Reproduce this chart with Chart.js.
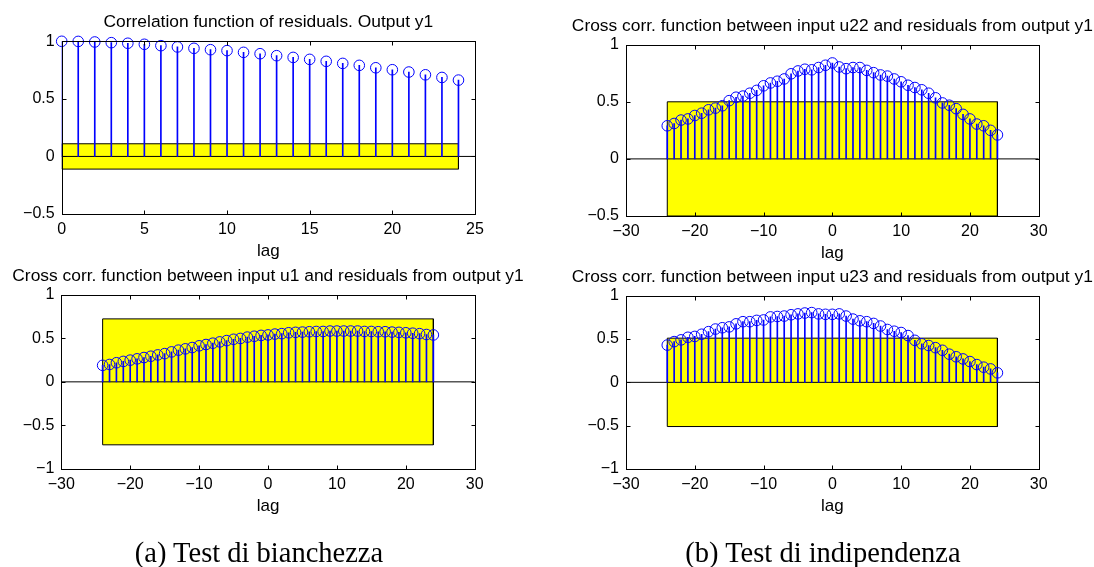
<!DOCTYPE html>
<html>
<head>
<meta charset="utf-8">
<script src="https://cdn.jsdelivr.net/npm/chart.js@4.4.0/dist/chart.umd.min.js"></script>
<style>
  body { margin: 0; background: #fff; }
  #page { position: relative; width: 1094px; height: 567px; overflow: hidden; background: #fff; }
  canvas { position: absolute; }
  .caption {
    position: absolute; width: 400px; text-align: center; white-space: nowrap;
    font-family: "Liberation Serif", "Times New Roman", serif; font-size: 28.5px;
    line-height: 1; color: #000;
  }
</style>
</head>
<body>
<div id="page">
  <canvas id="acfY1"></canvas>
  <canvas id="ccU22"></canvas>
  <canvas id="ccU1"></canvas>
  <canvas id="ccU23"></canvas>
  <div class="caption" style="left:59px;top:539px">(a) Test di bianchezza</div>
  <div class="caption" style="left:623px;top:539px">(b) Test di indipendenza</div>
</div>
<script>
// residual autocorrelation, output y1
const lagsAcf = [0, 1, 2, 3, 4, 5, 6, 7, 8, 9, 10, 11, 12, 13, 14, 15, 16, 17, 18, 19, 20, 21, 22, 23, 24];
const acfY1 = [1.0, 0.999, 0.994, 0.988, 0.983, 0.974, 0.962, 0.951, 0.939, 0.927, 0.919, 0.904, 0.892,
  0.875, 0.86, 0.843, 0.826, 0.808, 0.791, 0.77, 0.753, 0.733, 0.709, 0.686, 0.663];
const acfBound = 0.11;

// cross correlation inputs -> residuals of y1
const lagsCross = [-24, -23, -22, -21, -20, -19, -18, -17, -16, -15, -14, -13, -12, -11, -10, -9, -8, -7,
  -6, -5, -4, -3, -2, -1, 0, 1, 2, 3, 4, 5, 6, 7, 8, 9, 10, 11, 12, 13, 14, 15, 16, 17, 18, 19, 20, 21,
  22, 23, 24];
const crossU1 = [0.19, 0.20, 0.22, 0.235, 0.25, 0.265, 0.28, 0.295, 0.31, 0.325, 0.345, 0.365, 0.38,
  0.395, 0.415, 0.43, 0.445, 0.46, 0.475, 0.49, 0.50, 0.515, 0.525, 0.535, 0.54, 0.55, 0.555, 0.565,
  0.57, 0.573, 0.577, 0.58, 0.58, 0.585, 0.585, 0.585, 0.585, 0.585, 0.58, 0.58, 0.577, 0.577, 0.573,
  0.57, 0.565, 0.56, 0.555, 0.545, 0.54];
const crossU1Bound = 0.725;
const crossU22 = [0.29, 0.31, 0.34, 0.35, 0.38, 0.40, 0.43, 0.445, 0.465, 0.51, 0.54, 0.55, 0.575, 0.60,
  0.64, 0.665, 0.68, 0.70, 0.745, 0.77, 0.785, 0.78, 0.80, 0.82, 0.84, 0.805, 0.79, 0.80, 0.80, 0.775,
  0.755, 0.735, 0.725, 0.70, 0.675, 0.645, 0.625, 0.605, 0.575, 0.535, 0.49, 0.47, 0.44, 0.39, 0.35,
  0.305, 0.29, 0.25, 0.21];
const crossU22Bound = 0.5;
const crossU23 = [0.43, 0.47, 0.49, 0.52, 0.53, 0.555, 0.585, 0.615, 0.63, 0.64, 0.675, 0.70, 0.70,
  0.715, 0.72, 0.755, 0.76, 0.765, 0.78, 0.79, 0.80, 0.805, 0.79, 0.785, 0.785, 0.79, 0.765, 0.73, 0.71,
  0.70, 0.68, 0.65, 0.61, 0.59, 0.575, 0.54, 0.485, 0.445, 0.425, 0.40, 0.37, 0.325, 0.295, 0.27, 0.24,
  0.205, 0.175, 0.155, 0.11];
const crossU23Bound = 0.51;

const SANS = '"Liberation Sans", Arial, Helvetica, sans-serif';
Chart.defaults.font.family = SANS;
Chart.defaults.color = '#000';

const Y_AXIS_W = 55;
const X_AXIS_H = 40;

const minus = (v) => String(v).replace('-', '\u2212');

// box, inward ticks on all four sides, title and x label
const axesFrame = {
  id: 'axesFrame',
  afterDatasetsDraw(chart, args, opts) {
    const { ctx, chartArea: a, scales: { x, y } } = chart;
    const l = Math.round(a.left) + 0.5, r = Math.round(a.right) + 0.5;
    const t = Math.round(a.top) + 0.5, b = Math.round(a.bottom) + 0.5;
    ctx.save();
    ctx.strokeStyle = '#000';
    ctx.lineWidth = 1;
    ctx.beginPath();
    x.ticks.forEach((tk) => {
      const px = Math.round(x.getPixelForValue(tk.value)) + 0.5;
      ctx.moveTo(px, b); ctx.lineTo(px, b - 4);
      ctx.moveTo(px, t); ctx.lineTo(px, t + 4);
    });
    y.ticks.forEach((tk) => {
      const py = Math.round(y.getPixelForValue(tk.value)) + 0.5;
      ctx.moveTo(l, py); ctx.lineTo(l + 4, py);
      ctx.moveTo(r, py); ctx.lineTo(r - 4, py);
    });
    ctx.stroke();
    ctx.strokeRect(l, t, r - l, b - t);

    const cx = (a.left + a.right) / 2;
    ctx.fillStyle = '#000';
    ctx.textAlign = 'center';
    ctx.textBaseline = 'alphabetic';
    ctx.font = '17.4px ' + SANS;
    ctx.fillText(opts.title, cx, a.top - 14);
    ctx.font = '17px ' + SANS;
    ctx.fillText(opts.xLabel, cx, a.bottom + 42);
    ctx.restore();
  }
};

function stemChart(id, frame, spec) {
  const canvas = document.getElementById(id);
  canvas.width = frame.width;
  canvas.height = frame.height;
  canvas.style.left = frame.left + 'px';
  canvas.style.top = frame.top + 'px';

  const [L, T, R, B] = frame.area.map((v, i) => v - (i % 2 ? frame.top : frame.left));
  const first = spec.lags[0];
  const last = spec.lags[spec.lags.length - 1];
  const bound = spec.bound;
  const points = spec.lags.map((x, i) => ({ x, y: spec.values[i] }));

  return new Chart(canvas, {
    type: 'line',
    data: {
      datasets: [
        {
          // confidence region
          data: [
            { x: first, y: -bound }, { x: first, y: bound },
            { x: last, y: bound }, { x: last, y: -bound }, { x: first, y: -bound }
          ],
          fill: 'shape',
          backgroundColor: '#ffff00',
          borderColor: '#000',
          borderWidth: 1,
          pointRadius: 0,
          tension: 0,
          order: 4
        },
        {
          // baseline
          data: [{ x: spec.xMin, y: 0 }, { x: spec.xMax, y: 0 }],
          borderColor: '#000',
          borderWidth: 1,
          pointRadius: 0,
          fill: false,
          order: 3
        },
        {
          type: 'bar',
          data: points,
          backgroundColor: '#0000ff',
          barThickness: 1,
          order: 2
        },
        {
          data: points,
          showLine: false,
          pointStyle: 'circle',
          pointRadius: 5.3,
          pointBackgroundColor: 'rgba(0,0,0,0)',
          pointBorderColor: '#0000ff',
          pointBorderWidth: 1,
          clip: false,
          order: 1
        }
      ]
    },
    options: {
      responsive: false,
      animation: false,
      events: [],
      layout: {
        padding: { left: L - Y_AXIS_W, top: T, right: frame.width - R, bottom: frame.height - B - X_AXIS_H }
      },
      plugins: {
        legend: { display: false },
        tooltip: { enabled: false },
        axesFrame: { title: spec.title, xLabel: 'lag' }
      },
      scales: {
        x: {
          type: 'linear',
          min: spec.xMin,
          max: spec.xMax,
          offset: false,
          grid: { display: false, drawTicks: false },
          border: { display: false },
          ticks: { stepSize: spec.xStep, padding: 6, autoSkip: false, maxRotation: 0, font: { size: 16 }, callback: minus },
          afterFit: (s) => { s.height = X_AXIS_H; }
        },
        y: {
          type: 'linear',
          min: spec.yMin,
          max: 1,
          grid: { display: false, drawTicks: false },
          border: { display: false },
          ticks: { stepSize: 0.5, padding: 7, font: { size: 16 }, callback: minus },
          afterFit: (s) => { s.width = Y_AXIS_W; }
        }
      }
    },
    plugins: [axesFrame]
  });
}

stemChart('acfY1',
  { left: 0, top: 0, width: 547, height: 262, area: [61.7, 41.3, 475, 214] },
  { title: 'Correlation function of residuals. Output y1', lags: lagsAcf, values: acfY1,
    bound: acfBound, xMin: 0, xMax: 25, xStep: 5, yMin: -0.5 });

stemChart('ccU22',
  { left: 547, top: 0, width: 547, height: 262, area: [626, 44.7, 1038.7, 216] },
  { title: 'Cross corr. function between input u22 and residuals from output y1', lags: lagsCross,
    values: crossU22, bound: crossU22Bound, xMin: -30, xMax: 30, xStep: 10, yMin: -0.5 });

stemChart('ccU1',
  { left: 0, top: 262, width: 547, height: 278, area: [61.3, 295, 474.7, 468.7] },
  { title: 'Cross corr. function between input u1 and residuals from output y1', lags: lagsCross,
    values: crossU1, bound: crossU1Bound, xMin: -30, xMax: 30, xStep: 10, yMin: -1 });

stemChart('ccU23',
  { left: 547, top: 262, width: 547, height: 278, area: [626, 295.7, 1038.7, 469] },
  { title: 'Cross corr. function between input u23 and residuals from output y1', lags: lagsCross,
    values: crossU23, bound: crossU23Bound, xMin: -30, xMax: 30, xStep: 10, yMin: -1 });
</script>
</body>
</html>
